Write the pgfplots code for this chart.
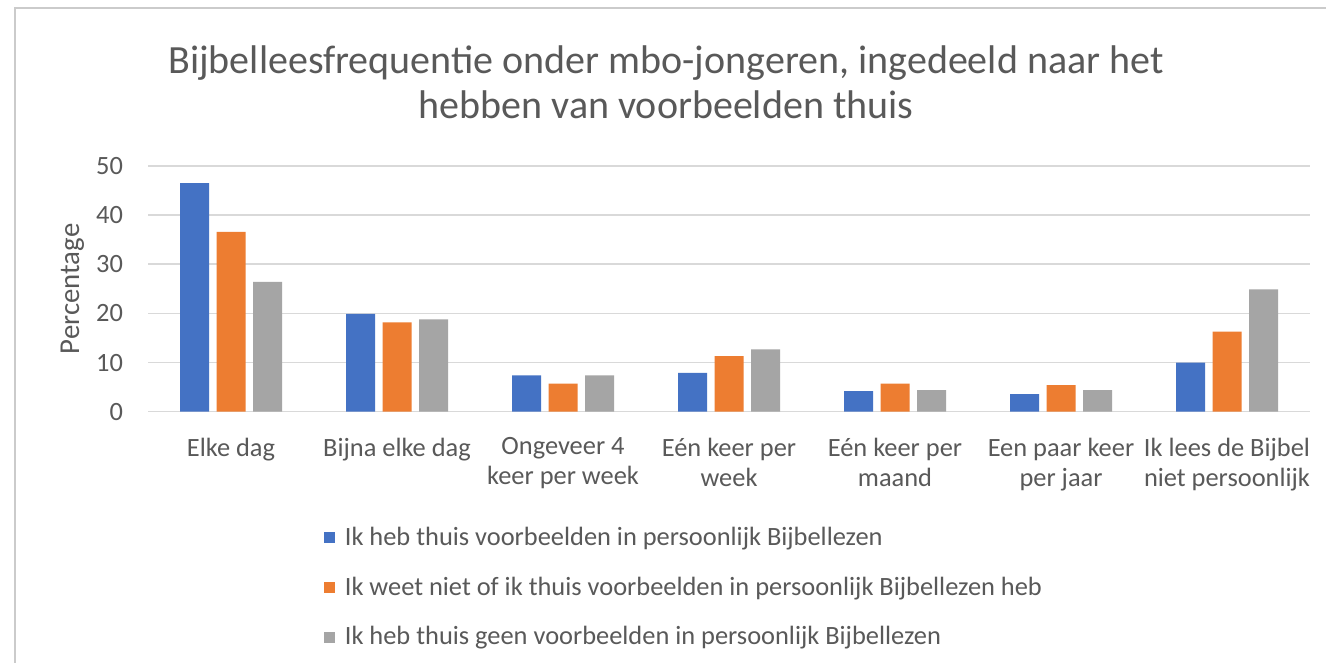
\documentclass[border=0pt]{standalone}
\usepackage{pgfplots}
\pgfplotsset{compat=1.18}
\usepackage{pgfplotstable}
\usepackage{fontspec}
\setmainfont{Carlito}
\definecolor{cblue}{HTML}{4472C4}
\definecolor{corange}{HTML}{ED7D31}
\definecolor{cgray}{HTML}{A5A5A5}
\definecolor{ctext}{HTML}{595959}
\definecolor{cgrid}{HTML}{D9D9D9}
\pgfplotstableread{
x a b c
0 46.5 36.6 26.4
1 19.9 18.2 18.8
2 7.4 5.7 7.4
3 7.9 11.3 12.7
4 4.2 5.7 4.4
5 3.6 5.4 4.4
6 10.0 16.3 24.9
}\datatable
\begin{document}
\begin{tikzpicture}
\useasboundingbox (0,0) rectangle (663pt,331.5pt);
\fill[white] (0,0) rectangle (663pt,331.5pt);
\draw[cgrid!85!gray, line width=1.2pt] (7.5pt,-1pt) -- (7.5pt,327.5pt) -- (664pt,327.5pt);
\node[align=center, font=\fontsize{20}{22.5}\selectfont, text=ctext] at (333pt,290.25pt)
  {Bijbelleesfrequentie onder mbo-jongeren, ingedeeld naar het\\hebben van voorbeelden thuis};
\begin{axis}[
  at={(74pt,125.65pt)}, anchor=south west,
  width=581pt, height=122.85pt, scale only axis,
  ybar=3.75pt, bar width=14.5pt,
  xmin=-0.5, xmax=6.5, ymin=0, ymax=50,
  ytick={0,10,20,30,40,50},
  xtick={0,1,2,3,4,5,6},
  xticklabels={{Elke dag},{Bijna elke dag},{Ongeveer 4\\keer per week},{Eén keer per\\week},{Eén keer per\\maand},{Een paar keer\\per jaar},{Ik lees de Bijbel\\niet persoonlijk}},
  ymajorgrids, grid style={cgrid, line width=0.8pt},
  separate axis lines,
  axis x line*=bottom, axis y line*=left,
  x axis line style={cgrid, line width=0.8pt, -},
  y axis line style={draw=none},
  major tick length=0pt,
  /pgf/number format/assume math mode=true,
  tick label style={font=\fontsize{13.2}{15}\selectfont, text=ctext},
  xticklabel style={align=center, yshift=-9.5pt},
  yticklabel style={xshift=-9pt},
  ylabel={Percentage},
  every axis y label/.style={at={(axis description cs:-0.065,0.50)}, rotate=90, anchor=center, font=\fontsize{14.4}{17}\selectfont, text=ctext},
  legend style={at={(axis description cs:0.146,-0.435)}, anchor=north west, draw=none, fill=none,
    font=\fontsize{13.2}{15.5}\selectfont, text=ctext, row sep=10.2pt,
    nodes={inner xsep=5pt}},
  legend cell align=left,
  sqlegend/.style={legend image code/.code={\fill[##1] (0pt,-2.7pt) rectangle (5.4pt,2.7pt);}},
]
\addplot[fill=cblue, draw=none, sqlegend] table[x=x, y=a] {\datatable};
\addplot[fill=corange, draw=none, sqlegend] table[x=x, y=b] {\datatable};
\addplot[fill=cgray, draw=none, sqlegend] table[x=x, y=c] {\datatable};
\legend{Ik heb thuis voorbeelden in persoonlijk Bijbellezen, Ik weet niet of ik thuis voorbeelden in persoonlijk Bijbellezen heb, Ik heb thuis geen voorbeelden in persoonlijk Bijbellezen}
\end{axis}
\end{tikzpicture}
\end{document}
